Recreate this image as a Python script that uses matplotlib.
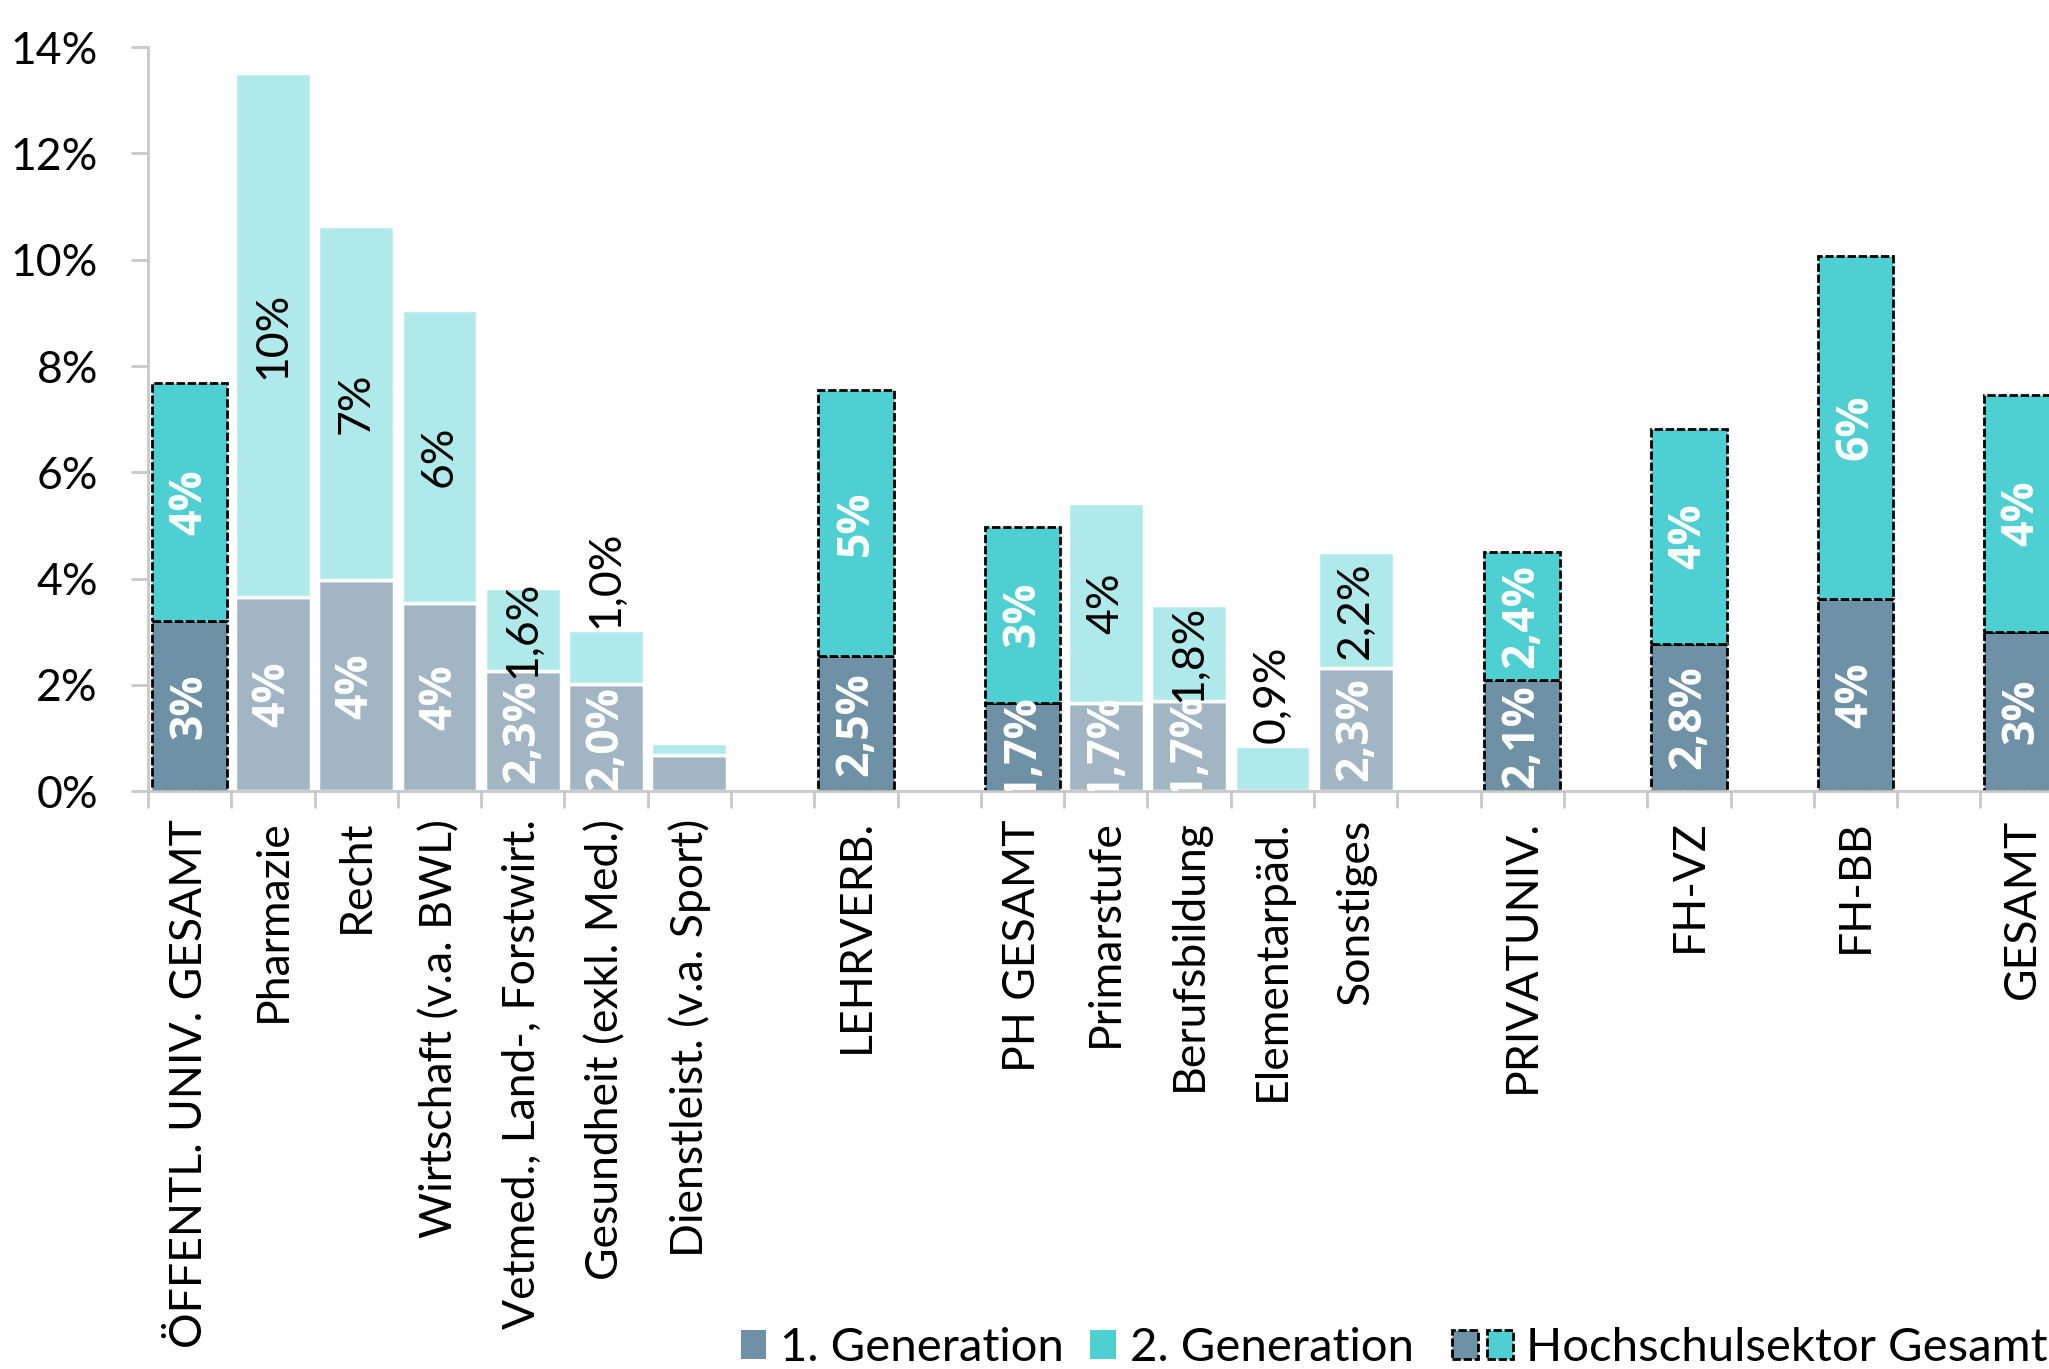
import numpy as np
import matplotlib.pyplot as plt
from matplotlib.patches import Patch
from matplotlib.legend_handler import HandlerTuple

plt.rcParams['font.family'] = ['Lato', 'DejaVu Sans']

nan = np.nan
categories = ["ÖFFENTL. UNIV. GESAMT", "Pharmazie", "Recht", "Wirtschaft (v.a. BWL)",
              "Vetmed., Land-, Forstwirt.", "Gesundheit (exkl. Med.)", "Dienstleist. (v.a. Sport)",
              "", "LEHRVERB.", "", "PH GESAMT", "Primarstufe", "Berufsbildung", "Elementarpäd.",
              "Sonstiges", "", "PRIVATUNIV.", "", "FH-VZ", "", "FH-BB", "", "GESAMT"]
gen1 = [3.20, 3.65, 3.97, 3.55, 2.26, 2.02, 0.69, nan, 2.54, nan, 1.67, 1.67, 1.70, 0.0,
        2.32, nan, 2.09, nan, 2.78, nan, 3.62, nan, 3.00]
gen2 = [4.48, 9.87, 6.67, 5.51, 1.57, 1.01, 0.22, nan, 5.00, nan, 3.31, 3.75, 1.80, 0.86,
        2.19, nan, 2.42, nan, 4.04, nan, 6.45, nan, 4.46]
is_total = [True, False, False, False, False, False, False, False, True, False, True, False,
            False, False, False, False, True, False, True, False, True, False, True]
# which bars get value labels, and which top labels sit above the bar
show_label = [True, True, True, True, True, True, False, False, True, False, True, True,
              True, True, True, False, True, False, True, False, True, False, True]
label_above = ["Gesundheit (exkl. Med.)", "Elementarpäd."]

c_dark = '#6E91A6'
c_turq = '#4ED0D2'
c_dark_l = '#A1B5C3'
c_turq_l = '#AFE9EA'


def fmt(v):
    if v >= 3:
        return f"{v:.0f}%"
    return f"{v:.1f}%".replace('.', ',')


fig = plt.figure(figsize=(20.49, 13.69), dpi=100)
ax = fig.add_axes([0.0722, 0.422, 0.935, 0.5436])

x = np.arange(len(categories))
g1 = np.nan_to_num(np.array(gen1))
g2 = np.nan_to_num(np.array(gen2))
tot = np.array(is_total)

w = 0.91
dash = (0, (3, 1))
# sub-categories: pale colours, white edges
ax.bar(x[~tot], g1[~tot], w, color=c_dark_l, edgecolor='white', linewidth=2.5)
ax.bar(x[~tot], g2[~tot], w, bottom=g1[~tot], color=c_turq_l, edgecolor='white', linewidth=2.5)
# totals: strong colours, dashed black edges
ax.bar(x[tot], g1[tot], w, color=c_dark, edgecolor='black', linewidth=2, linestyle=dash)
ax.bar(x[tot], g2[tot], w, bottom=g1[tot], color=c_turq, edgecolor='black', linewidth=2,
       linestyle=dash)

fs = 32
bold = dict(color='white', fontsize=fs, fontweight='bold', family=['Open Sans', 'DejaVu Sans'])
for i in range(len(categories)):
    if not show_label[i]:
        continue
    a, b = g1[i], g2[i]
    if a > 0:
        ax.text(x[i], a / 2, fmt(a), rotation=90, ha='center', va='center', clip_on=True, **bold)
    if b > 0:
        if categories[i] in label_above:
            ax.text(x[i], a + b + 0.05, fmt(b), rotation=90, ha='center', va='bottom',
                    color='black', fontsize=fs)
        elif is_total[i]:
            ax.text(x[i], a + b / 2, fmt(b), rotation=90, ha='center', va='center', **bold)
        else:
            ax.text(x[i], a + b / 2, fmt(b), rotation=90, ha='center', va='center',
                    color='black', fontsize=fs)

ax.set_xlim(-0.5, len(categories) - 0.5)
ax.set_ylim(0, 14)
ax.set_yticks(np.arange(0, 15, 2))
ax.set_yticklabels([f"{v}%" for v in range(0, 15, 2)], fontsize=fs)
ax.set_xticks(x)
ax.set_xticklabels(categories, rotation=90, fontsize=fs, va='top', ha='center')
ax.set_xticks(np.arange(-0.5, len(categories), 1), minor=True)
ax.tick_params(axis='x', which='major', length=0, pad=20)
ax.tick_params(axis='x', which='minor', length=12, width=2, color='#C8C8C8')
ax.tick_params(axis='y', length=12, width=2, color='#C8C8C8', pad=24)

for s in ['top', 'right']:
    ax.spines[s].set_visible(False)
for s in ['left', 'bottom']:
    ax.spines[s].set_color('#C8C8C8')
    ax.spines[s].set_linewidth(2)

# legend: two parts so the combined entry can be wider
lfs = 34
h1 = Patch(facecolor=c_dark, edgecolor='none')
h2 = Patch(facecolor=c_turq, edgecolor='none')
h3a = Patch(facecolor=c_dark, edgecolor='black', linewidth=2, linestyle=dash)
h3b = Patch(facecolor=c_turq, edgecolor='black', linewidth=2, linestyle=dash)
fig.legend([h1, h2], ["1. Generation", "2. Generation"], loc='lower left',
           bbox_to_anchor=(0.3614, 0.0), ncol=2, frameon=False, fontsize=lfs,
           handlelength=0.55, handleheight=0.55, handletextpad=0.28, columnspacing=0.57,
           borderpad=0, borderaxespad=0)
fig.legend([(h3a, h3b)], ["Hochschulsektor Gesamt"], loc='lower right',
           bbox_to_anchor=(0.9995, 0.0), frameon=False, fontsize=lfs,
           handler_map={tuple: HandlerTuple(ndivide=None, pad=0.19)},
           handlelength=1.3, handleheight=0.55, handletextpad=0.28,
           borderpad=0, borderaxespad=0)

fig.savefig('out.png', dpi=100)
